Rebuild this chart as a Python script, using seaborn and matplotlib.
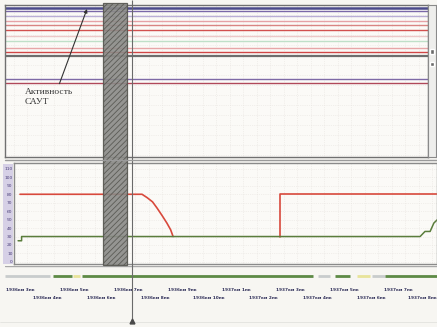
import numpy as np
import pandas as pd
import matplotlib
matplotlib.use("Agg")
import matplotlib.pyplot as plt
from matplotlib.patches import Rectangle
import seaborn as sns

sns.set_theme(style="white")
plt.rcParams['font.family'] = ['DejaVu Sans']
plt.rcParams['hatch.linewidth'] = 0.6

# ---- data -------------------------------------------------------------
# track coordinate in metres, speed in km/h
limit1_x = [74, 526, 545, 565, 581, 600, 618, 632, 641]
limit1_v = [80, 80, 76, 71, 64, 55, 46, 38, 30]
limit2_x = [1037, 1037, 1620]
limit2_v = [30, 80, 80]
actual_x = [67, 80, 80, 1556, 1574, 1593, 1607, 1620]
actual_v = [25, 25, 30, 30, 36, 36, 46, 50]

speed_ticks = [0, 10, 20, 30, 40, 50, 60, 70, 80, 90, 100, 110]

# discrete signal channels (row position inside the upper panel)
channel_rows = [3, 6, 11, 16, 20, 25, 31, 36, 43, 47, 51, 74, 78]
channel_colors = ['#4b4a8a', '#7a68a8', '#b9aed6', '#e6a2a6', '#d98482', '#d2504e',
                  '#ecc8c8', '#bfe0c8', '#e7a6a8', '#d14646', '#6e6e6e', '#7e6aa6', '#b0485a']

# САУТ activity window and cursor position, m
saut_start, saut_end = 381, 470
cursor_x = 490

# state strip segments: (start, end, state)
strip_segments = [(18, 185, 'off'), (196, 267, 'on'), (270, 296, 'warn'),
                  (304, 1159, 'on'), (1178, 1222, 'off'), (1241, 1296, 'on'),
                  (1322, 1370, 'warn'), (1378, 1426, 'off'), (1426, 1620, 'on')]
state_colors = {'on': '#5d8a45', 'warn': '#e8e49a', 'off': '#c8cccc'}

# coordinate marks
mark_x = [75, 175, 275, 375, 475, 575, 675, 775, 875, 975, 1075, 1175, 1275, 1375, 1475, 1575]
mark_labels = ['1936км 3пк', '1936км 4пк', '1936км 5пк', '1936км 6пк',
               '1936км 7пк', '1936км 8пк', '1936км 9пк', '1936км 10пк',
               '1937км 1пк', '1937км 2пк', '1937км 3пк', '1937км 4пк',
               '1937км 5пк', '1937км 6пк', '1937км 7пк', '1937км 8пк']

# ---- layout helpers -----------------------------------------------------
W, H = 437, 327
M_PER_PX = 1 / 0.27
BG = '#f7f6f2'
GRID_X = np.arange(0, 1700, 50)

fig = plt.figure(figsize=(W / 100, H / 100), dpi=100, facecolor=BG)


def add_ax(x0, y0, x1, y1, **kw):
    ax = fig.add_axes([x0 / W, 1 - y1 / H, (x1 - x0) / W, (y1 - y0) / H], **kw)
    ax.set_xlim(x0 * M_PER_PX, x1 * M_PER_PX)
    return ax


def frame(ax, color='#8a8a8a', lw=1.0):
    for s in ax.spines.values():
        s.set_visible(True)
        s.set_color(color)
        s.set_linewidth(lw)


# background column for speed labels
fig.patches.append(Rectangle((3 / W, 1 - 264 / H), 10 / W, 100 / H,
                             transform=fig.transFigure, facecolor='#d6d0e6',
                             edgecolor='none', zorder=-1))

# ---- upper panel: signal channels --------------------------------------
ax_top = add_ax(5, 5, 428, 157)
ax_top.set_facecolor('#fbfaf7')
xs = ax_top.get_xlim()
ch_df = pd.DataFrame({
    'x': [xs[0], xs[1]] * len(channel_rows),
    'row': [r for r in channel_rows for _ in range(2)],
    'channel': [i for i in range(len(channel_rows)) for _ in range(2)],
})
sns.lineplot(data=ch_df, x='x', y='row', hue='channel', palette=channel_colors,
             estimator=None, legend=False, linewidth=1.0, ax=ax_top)
ax_top.lines[0].set_linewidth(1.8)
ax_top.lines[10].set_linewidth(1.6)
ax_top.set_xticks(GRID_X)
ax_top.set_yticks(np.arange(0, 152, 10))
ax_top.set_xlim(xs)
ax_top.set_ylim(152, 0)
ax_top.grid(True, color='#e8e4e0', linestyle=':', linewidth=0.5)
ax_top.tick_params(length=0, labelleft=False, labelbottom=False)
ax_top.set_xlabel('')
ax_top.set_ylabel('')
frame(ax_top, '#707070', 1.0)
ax_top.annotate('Активность\nСАУТ', xy=(87 * M_PER_PX, 4), xytext=(25 * M_PER_PX, 92),
                fontsize=6.8, family=['Liberation Serif', 'DejaVu Serif'], color='#3a3a3a',
                ha='left', va='center', linespacing=1.25,
                arrowprops=dict(arrowstyle='-|>', color='#333333', lw=0.8,
                                mutation_scale=5, relpos=(0.68, 1.0), shrinkA=1, shrinkB=0))

# scroll bar at the right of the upper panel
ax_sb = fig.add_axes([428 / W, 1 - 157 / H, 8 / W, 152 / H])
ax_sb.set_facecolor('#eeeeec')
ax_sb.set_xticks([]); ax_sb.set_yticks([])
frame(ax_sb, '#8a8a8a', 0.8)
ax_sb.set_xlim(0, 1); ax_sb.set_ylim(152, 0)
ax_sb.add_patch(Rectangle((0.2, 44), 0.6, 5, facecolor='#6a6a6a'))
ax_sb.add_patch(Rectangle((0.2, 57), 0.6, 4, facecolor='#6a6a6a'))

# ---- middle panel: speed ---------------------------------------------
ax_mid = add_ax(14, 163, 437, 264)
ax_mid.set_facecolor('#fbfaf7')
xm = ax_mid.get_xlim()
lim_df = pd.DataFrame({'x': limit1_x + limit2_x, 'v': limit1_v + limit2_v,
                       'seg': [0] * len(limit1_x) + [1] * len(limit2_x)})
sns.lineplot(data=lim_df, x='x', y='v', units='seg', estimator=None, sort=False,
             color='#d8493c', linewidth=1.2, ax=ax_mid)
act_df = pd.DataFrame({'x': actual_x, 'v': actual_v})
sns.lineplot(data=act_df, x='x', y='v', estimator=None, sort=False,
             color='#5a7d3c', linewidth=1.1, ax=ax_mid)
ax_mid.set_yticks(speed_ticks)
ax_mid.set_yticklabels([str(v) for v in speed_ticks])
ax_mid.set_xticks(GRID_X)
ax_mid.set_xlim(xm)
ax_mid.set_ylim(-2.5, 117)
ax_mid.grid(True, color='#e8e4e0', linestyle=':', linewidth=0.5)
ax_mid.tick_params(axis='y', length=0, labelsize=3.2, labelcolor='#4a3f78', pad=1)
ax_mid.tick_params(axis='x', length=0, labelbottom=False)
ax_mid.set_xlabel('')
ax_mid.set_ylabel('')
frame(ax_mid, '#8a8a8a', 1.0)

# double separator between panels
fig.add_artist(plt.Line2D([5 / W, 1], [1 - 160 / H] * 2, color='#9a9a9a', lw=1.0))

# ---- state strip -------------------------------------------------------
ax_strip = add_ax(5, 266, 437, 281)
ax_strip.set_facecolor(BG)
xst = ax_strip.get_xlim()
for x0, x1, st in strip_segments:
    ax_strip.hlines(0.35, x0, x1, color=state_colors[st], linewidth=2.0)
ax_strip.set_xticks([]); ax_strip.set_yticks([])
ax_strip.set_xlim(xst)
ax_strip.set_ylim(0, 1)
for s in ax_strip.spines.values():
    s.set_visible(False)
ax_strip.axhline(1.0, color='#a8a8a8', lw=1.0)
ax_strip.axhline(0.0, color='#d0d0d0', lw=0.6)

# ---- coordinate labels ------------------------------------------------
ax_lab = add_ax(0, 282, 437, 323)
ax_lab.set_facecolor(BG)
ax_lab.set_ylim(41, 0)
x_right = ax_lab.get_xlim()[1]
for i, (x, lab) in enumerate(zip(mark_x, mark_labels)):
    last = i == len(mark_x) - 1
    ax_lab.text(x_right - 2 if last else x, 8 if i % 2 == 0 else 16, lab,
                ha='right' if last else 'center', va='center',
                fontsize=3.1, fontweight='bold', color='#2e2e58')
ax_lab.set_xticks([]); ax_lab.set_yticks([])
for s in ax_lab.spines.values():
    s.set_visible(False)
ax_lab.axhline(40.5, color='#a0a0a0', lw=1.0)

# ---- overlay: САУТ window and cursor ----------------------------------
ax_ov = add_ax(0, 0, 437, 327)
ax_ov.patch.set_alpha(0)
ax_ov.set_ylim(327, 0)
ax_ov.axis('off')
ax_ov.add_patch(Rectangle((saut_start, 3), saut_end - saut_start, 262,
                          facecolor='#8a8a87', edgecolor='#55554f', hatch='//////',
                          linewidth=0.9, alpha=0.9))
ax_ov.vlines(cursor_x, 0, 322, color='#6a6a6a', linewidth=0.8)
ax_ov.plot([cursor_x], [321], marker='^', markersize=3.5, color='#4a4a4a')

fig.savefig('out.png', dpi=100, facecolor=BG)
